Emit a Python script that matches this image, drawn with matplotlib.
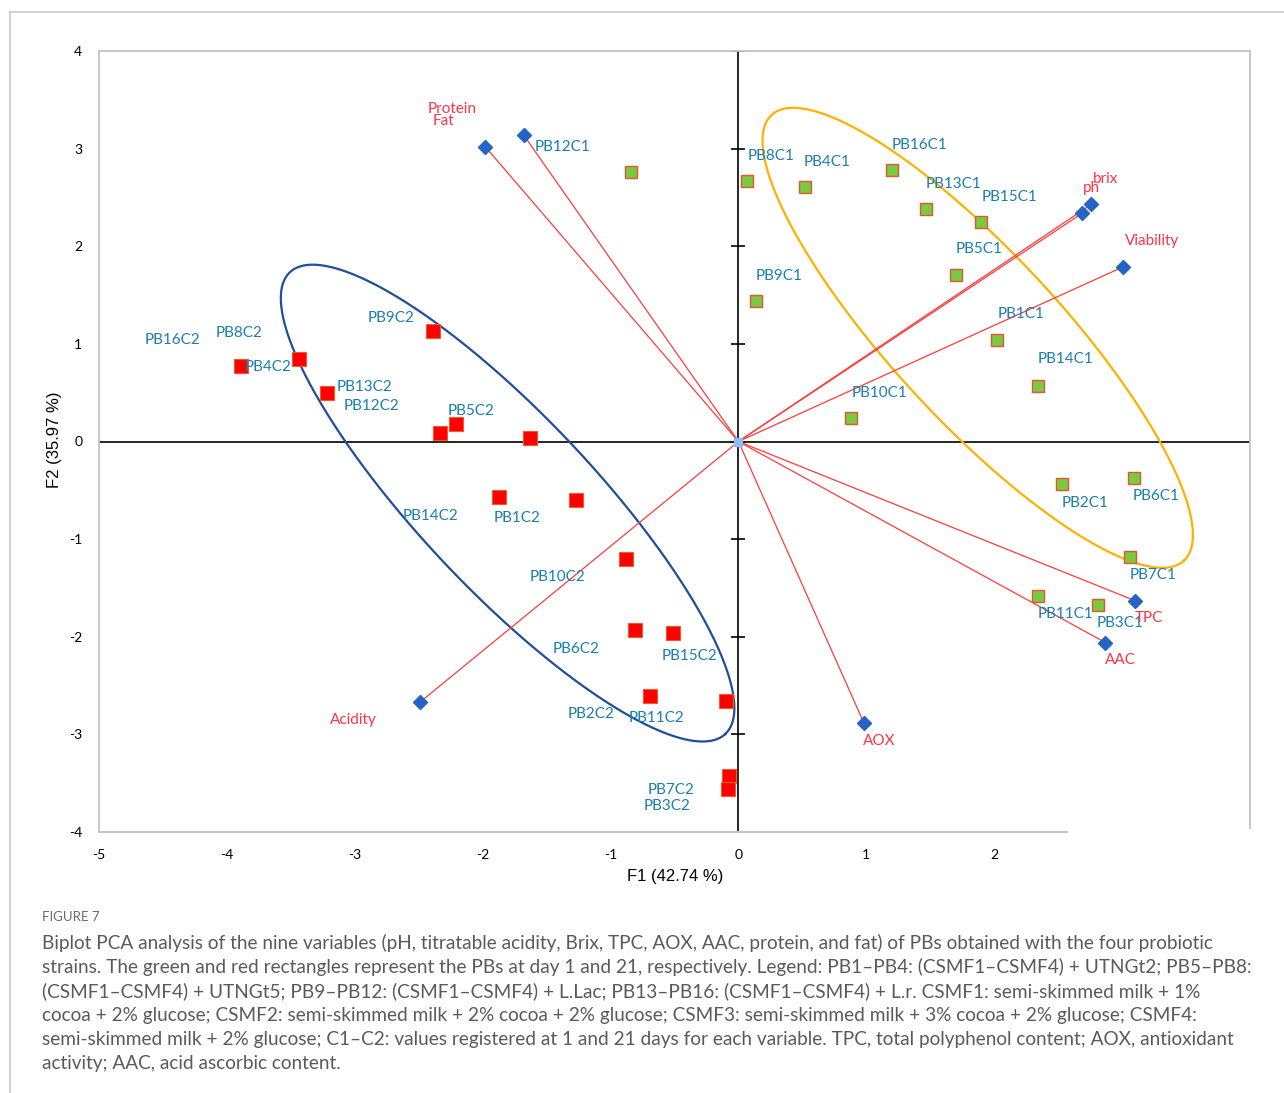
import numpy as np
import matplotlib
matplotlib.use("Agg")
import matplotlib.pyplot as plt
from matplotlib.lines import Line2D

plt.rcParams['font.family'] = ['Lato', 'DejaVu Sans']
plt.rcParams['axes.unicode_minus'] = False

# variable loadings (F1, F2)
var_names = ["Protein", "Fat", "ph", "brix", "Viability", "TPC", "AAC", "AOX", "Acidity"]
var_f1 = [-1.98, -1.68, 2.69, 2.76, 3.01, 3.10, 2.87, 0.98, -2.49]
var_f2 = [3.02, 3.14, 2.34, 2.43, 1.79, -1.63, -2.06, -2.88, -2.67]

# samples at day 1 (C1)
c1_f1 = [-0.84, 0.07, 0.52, 1.20, 1.47, 1.90, 1.70, 0.14, 2.02, 2.34, 0.88, 2.53, 3.09, 3.06, 2.34, 2.81]
c1_f2 = [2.76, 2.67, 2.61, 2.78, 2.38, 2.25, 1.71, 1.44, 1.04, 0.57, 0.24, -0.44, -0.37, -1.18, -1.58, -1.67]

# samples at day 21 (C2)
c2_f1 = [-3.89, -3.44, -3.22, -2.39, -2.33, -2.21, -1.63, -1.87, -1.27, -0.88, -0.81, -0.51, -0.69, -0.10, -0.07, -0.08]
c2_f2 = [0.77, 0.85, 0.50, 1.13, 0.09, 0.18, 0.04, -0.57, -0.60, -1.20, -1.93, -1.96, -2.61, -2.66, -3.43, -3.56]

c1_names = ["PB12C1", "PB8C1", "PB4C1", "PB16C1", "PB13C1", "PB15C1", "PB5C1", "PB9C1",
            "PB1C1", "PB14C1", "PB10C1", "PB2C1", "PB6C1", "PB7C1", "PB11C1", "PB3C1"]
c2_names = ["PB16C2", "PB8C2", "PB4C2", "PB9C2", "PB13C2", "PB12C2", "PB5C2", "PB14C2",
            "PB1C2", "PB10C2", "PB6C2", "PB15C2", "PB2C2", "PB11C2", "PB7C2", "PB3C2"]

# label anchors (text centres, data units)
c1_lab_x = [-1.375, 0.258, 0.695, 1.414, 1.680, 2.117, 1.883, 0.320, 2.211, 2.555, 1.102, 2.711, 3.266, 3.242, 2.555, 2.984]
c1_lab_y = [3.015, 2.923, 2.862, 3.036, 2.636, 2.503, 1.969, 1.692, 1.303, 0.841, 0.492, -0.626, -0.554, -1.364, -1.764, -1.856]
c2_lab_x = [-4.422, -3.906, -3.680, -2.719, -2.922, -2.867, -2.094, -2.406, -1.734, -1.414, -1.273, -0.383, -1.156, -0.641, -0.523, -0.555]
c2_lab_y = [1.036, 1.108, 0.759, 1.262, 0.554, 0.359, 0.308, -0.759, -0.779, -1.385, -2.123, -2.195, -2.790, -2.831, -3.569, -3.733]
var_lab_x = [-2.242, -2.305, 2.758, 2.867, 3.234, 3.211, 2.984, 1.102, -3.008]
var_lab_y = [3.405, 3.282, 2.595, 2.687, 2.051, -1.805, -2.236, -3.067, -2.851]

# confidence ellipses: centre, semi-axis vectors
ell_c2 = dict(c=(-1.805, -0.631), a=(1.703, -2.364), b=(0.494, 0.613))
ell_c1 = dict(c=(1.871, 1.062), a=(1.6125, -2.282), b=(0.481, 0.586))

caption_lines = [
    "Biplot PCA analysis of the nine variables (pH, titratable acidity, Brix, TPC, AOX, AAC, protein, and fat) of PBs obtained with the four probiotic",
    "strains. The green and red rectangles represent the PBs at day 1 and 21, respectively. Legend: PB1\u2013PB4: (CSMF1\u2013CSMF4) + UTNGt2; PB5\u2013PB8:",
    "(CSMF1\u2013CSMF4) + UTNGt5; PB9\u2013PB12: (CSMF1\u2013CSMF4) + L.Lac; PB13\u2013PB16: (CSMF1\u2013CSMF4) + L.r. CSMF1: semi-skimmed milk + 1%",
    "cocoa + 2% glucose; CSMF2: semi-skimmed milk + 2% cocoa + 2% glucose; CSMF3: semi-skimmed milk + 3% cocoa + 2% glucose; CSMF4:",
    "semi-skimmed milk + 2% glucose; C1\u2013C2: values registered at 1 and 21 days for each variable. TPC, total polyphenol content; AOX, antioxidant",
    "activity; AAC, acid ascorbic content.",
]

W, H = 1284, 1093
fig = plt.figure(figsize=(W / 100, H / 100), dpi=100)
ax = fig.add_axes([99 / W, 1 - 832 / H, 1151 / W, 781 / H])
ax.set_xlim(-5, 4)
ax.set_ylim(-4, 4)

for s in ax.spines.values():
    s.set_visible(False)
grey = "#c4c4c4"
ax.plot([0, 0], [0, 1], transform=ax.transAxes, color=grey, lw=1.3, clip_on=False)
ax.plot([0, 1], [1, 1], transform=ax.transAxes, color=grey, lw=1.3, clip_on=False)
ax.plot([1, 1], [1, 0.005], transform=ax.transAxes, color=grey, lw=1.3, clip_on=False)
ax.plot([0, 0.841], [0, 0], transform=ax.transAxes, color=grey, lw=1.5, clip_on=False)

# cross axes through origin
ax.axhline(0, color="black", lw=1.2, zorder=1)
ax.plot([0, 0], [-4, 4], color="black", lw=1.2, zorder=1)
ax.plot(np.zeros(9), np.arange(-4, 5), ls="none", marker="_", ms=10, mew=1.2, color="black", zorder=1)

ax.set_xticks(np.arange(-5, 3))
ax.set_yticks(np.arange(-4, 5))
ax.tick_params(length=0, labelsize=10, pad=12)

# ellipses
t = np.linspace(0, 2 * np.pi, 400)
for e, col in [(ell_c2, "#1f4e9c"), (ell_c1, "#ffb000")]:
    ex = e["c"][0] + np.cos(t) * e["a"][0] + np.sin(t) * e["b"][0]
    ey = e["c"][1] + np.cos(t) * e["a"][1] + np.sin(t) * e["b"][1]
    ax.plot(ex, ey, color=col, lw=1.6, zorder=2)

# loading vectors
for x, y in zip(var_f1, var_f2):
    ax.plot([0, x], [0, y], color="#ff3b3b", lw=0.9, zorder=3)
ax.plot(var_f1, var_f2, ls="none", marker="D", ms=7, color="#2563c4", zorder=5)
ax.plot([0], [0], ls="none", marker="s", ms=6, color="#8dbdf0", zorder=5)

ax.plot(c1_f1, c1_f2, ls="none", marker="s", ms=9, mfc="#7ac943", mec="#e8562a", mew=1.0, zorder=4)
ax.plot(c2_f1, c2_f2, ls="none", marker="s", ms=9.5, mfc="#ff0000", mec="#f05a28", mew=0.8, zorder=4)

lab_col = "#1a7fae"
for n, x, y in zip(c1_names, c1_lab_x, c1_lab_y):
    ax.text(x, y, n, color=lab_col, fontsize=11, ha="center", va="center", zorder=6)
for n, x, y in zip(c2_names, c2_lab_x, c2_lab_y):
    ax.text(x, y, n, color=lab_col, fontsize=11, ha="center", va="center", zorder=6)
for n, x, y in zip(var_names, var_lab_x, var_lab_y):
    ax.text(x, y, n, color="#ff3347", fontsize=11, ha="center", va="center", zorder=6)

fig.text(55 / W, 1 - 440 / H, "F2 (35.97 %)", rotation=90, ha="center", va="center",
         fontsize=12, family="Liberation Sans")
fig.text(675 / W, 1 - 877 / H, "F1 (42.74 %)", ha="center", va="center",
         fontsize=12, family="Liberation Sans")

# frame around the figure panel
fig.add_artist(Line2D([10 / W, 10 / W], [0, 1 - 12 / H], color="#c8c8c8", lw=1.2))
fig.add_artist(Line2D([10 / W, 1], [1 - 12 / H, 1 - 12 / H], color="#c8c8c8", lw=1.2))

fig.text(42 / W, 1 - 917 / H, "FIGURE 7", fontsize=9.5, color="#6a6a6a", va="center")
for i, line in enumerate(caption_lines):
    fig.text(42 / W, 1 - (943 + 24 * i) / H, line, fontsize=13.7, color="#5a5a5a", va="center")

fig.savefig("out.png", dpi=100)
